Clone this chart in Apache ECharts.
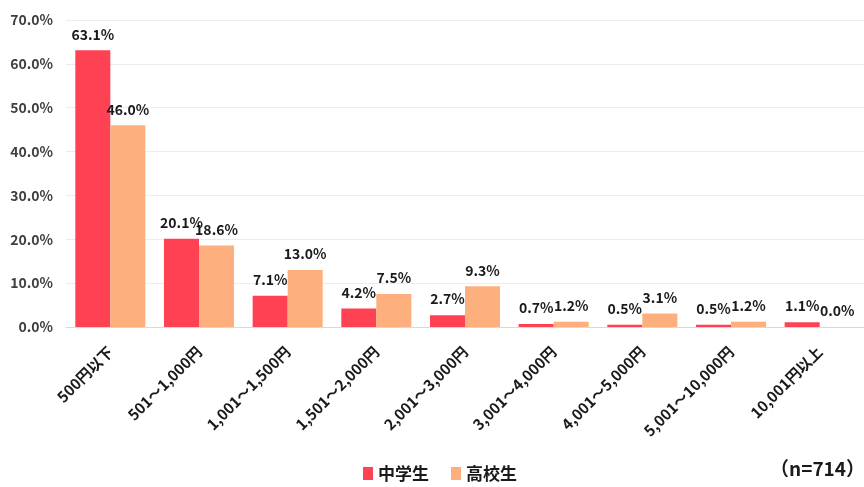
<!DOCTYPE html>
<html><head><meta charset="utf-8">
<script src="https://cdn.jsdelivr.net/npm/echarts@6/dist/echarts.min.js"></script>
<style>html,body{margin:0;padding:0;background:#fff;}#c{width:864px;height:487px;}</style>
</head><body><div id="c"></div>
<script>
const categories = ['500円以下','501～1,000円','1,001～1,500円','1,501～2,000円','2,001～3,000円','3,001～4,000円','4,001～5,000円','5,001～10,000円','10,001円以上'];
const juniorHigh = [63.1, 20.1, 7.1, 4.2, 2.7, 0.7, 0.5, 0.5, 1.1];
const highSchool = [46.0, 18.6, 13.0, 7.5, 9.3, 1.2, 3.1, 1.2, 0.0];
const seriesNames = ['中学生', '高校生'];
const noteText = '（n=714）';

const FONT = '"Noto Sans CJK JP", "Noto Sans", sans-serif';
const chart = echarts.init(document.getElementById('c'));
const lbl = {show:true, position:'top', distance:9, formatter: p => p.value.toFixed(1) + '%', color:'#1a1a1a', fontWeight:'bold', fontSize:14, fontFamily:FONT};
chart.setOption({
  animation:false,
  textStyle:{fontFamily:FONT},
  grid:{left:66, right:-7, top:20, bottom:160, containLabel:false},
  legend:{data:seriesNames, bottom:0, left:358, itemWidth:10, itemHeight:13, itemGap:22, icon:'rect',
    textStyle:{fontSize:17, fontWeight:'bold', color:'#1a1a1a', fontFamily:FONT}},
  xAxis:{type:'category', data:categories,
    axisLine:{lineStyle:{color:'#d9d9d9'}}, axisTick:{show:false},
    axisLabel:{rotate:45, interval:0, fontSize:15, fontWeight:'bold', color:'#1a1a1a', margin:22, fontFamily:FONT}},
  yAxis:{type:'value', min:0, max:70, interval:10,
    axisLabel:{formatter: v => v.toFixed(1) + '%', fontSize:14, fontWeight:'bold', color:'#404040', margin:13, fontFamily:FONT},
    splitLine:{lineStyle:{color:'#ececec'}}, axisLine:{show:false}, axisTick:{show:false}},
  series:[
    {name:seriesNames[0], type:'bar', data:juniorHigh, barGap:'0%', barCategoryGap:'21%', itemStyle:{color:'#FF4253'}, label:lbl},
    {name:seriesNames[1], type:'bar', data:highSchool, itemStyle:{color:'#FDB07E'}, label:lbl}
  ],
  graphic:[{type:'text', left:770, top:459, style:{text:noteText, fontSize:19, fontWeight:'bold', fill:'#1a1a1a', fontFamily:FONT}}]
});
</script></body></html>
